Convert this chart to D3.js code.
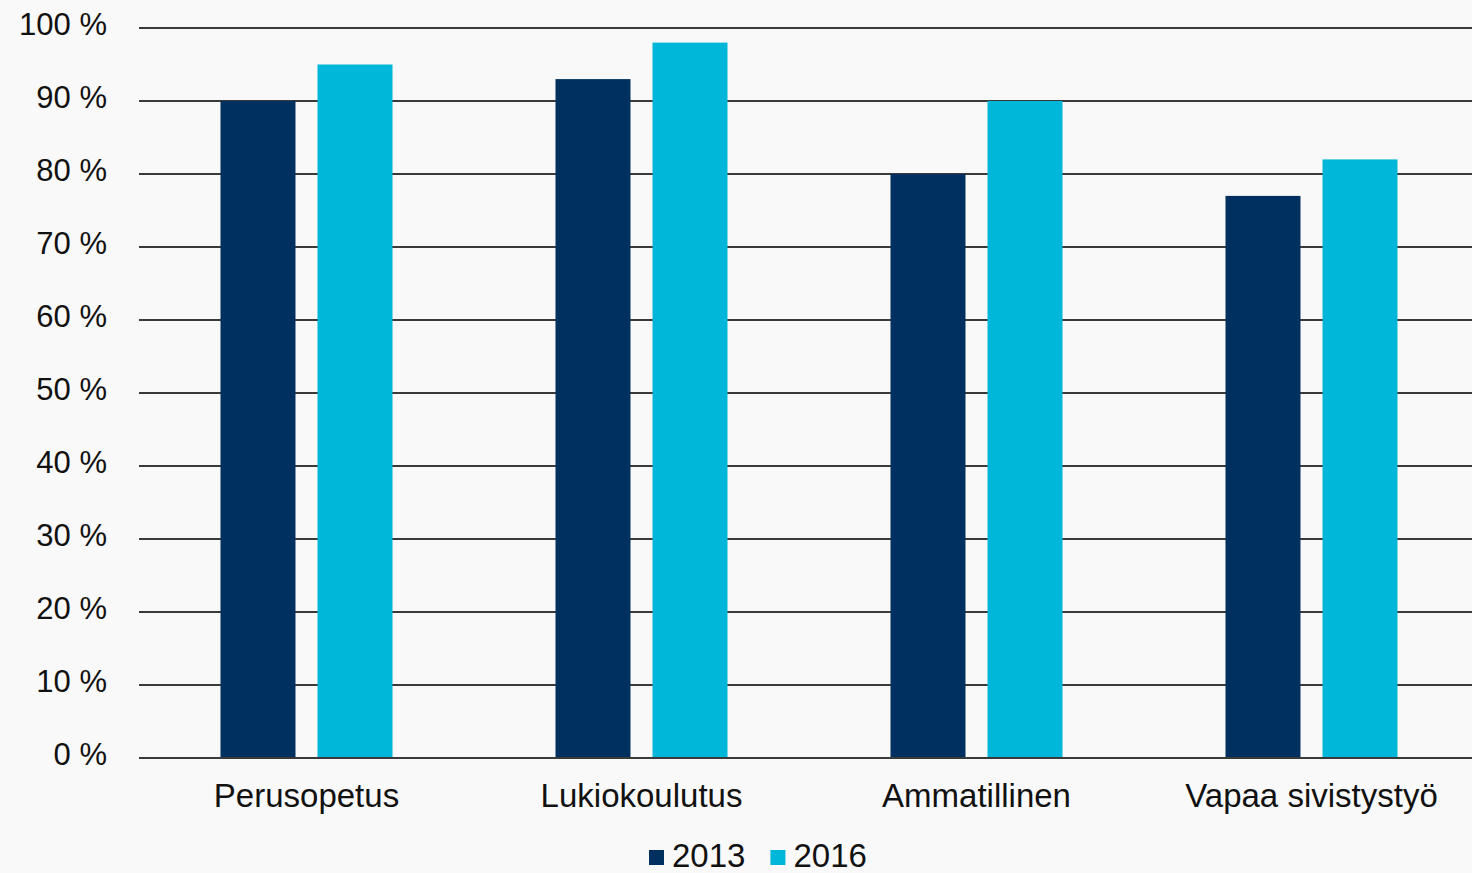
<!DOCTYPE html>
<html>
<head>
<meta charset="utf-8">
<script src="https://d3js.org/d3.v7.min.js"></script>
<style>
  html, body { margin: 0; padding: 0; background: #f9f9f9; }
  svg { display: block; font-family: "Liberation Sans", Arial, sans-serif; }
</style>
</head>
<body>
<div id="chart"></div>
<script>
const categories = ["Perusopetus", "Lukiokoulutus", "Ammatillinen", "Vapaa sivistystyö"];
const series = ["2013", "2016"];
const values2013 = [90, 93, 80, 77];
const values2016 = [95, 98, 90, 82];
const yTicks = [0, 10, 20, 30, 40, 50, 60, 70, 80, 90, 100];
const colors = ["#00305f", "#00b6d9"];

const width = 1472, height = 873;
const margin = { top: 28, right: -7, bottom: 115, left: 139 };

const svg = d3.select("#chart").append("svg")
    .attr("width", width)
    .attr("height", height);

svg.append("rect").attr("width", width).attr("height", height).attr("fill", "#f9f9f9");

const y = d3.scaleLinear().domain([0, 100]).range([height - margin.bottom, margin.top]);
const x0 = d3.scaleBand().domain(categories).range([margin.left, width - margin.right]);
const groupWidth = 172;
const x1 = d3.scaleBand().domain(series).range([0, groupWidth]).paddingInner(0.227);

// grid lines
svg.append("g").selectAll("line").data(yTicks).join("line")
    .attr("x1", margin.left).attr("x2", width)
    .attr("y1", d => y(d)).attr("y2", d => y(d))
    .attr("stroke", "#3a3a3a").attr("stroke-width", 2);

// y labels
svg.append("g").selectAll("text").data(yTicks).join("text")
    .attr("x", 107).attr("y", d => y(d) - 1)
    .attr("text-anchor", "end")
    .attr("dominant-baseline", "middle")
    .attr("font-size", 31)
    .attr("fill", "#111")
    .text(d => d + " %");

// bars
const rows = categories.map((c, i) => ({ cat: c, vals: [values2013[i], values2016[i]] }));
const groups = svg.append("g").selectAll("g").data(rows).join("g")
    .attr("transform", d => `translate(${x0(d.cat) + x0.bandwidth() / 2 - groupWidth / 2},0)`);
groups.selectAll("rect").data(d => d.vals.map((v, j) => ({ s: series[j], v, j }))).join("rect")
    .attr("x", d => x1(d.s))
    .attr("width", x1.bandwidth())
    .attr("y", d => y(d.v))
    .attr("height", d => y(0) - y(d.v))
    .attr("fill", d => colors[d.j]);

// baseline on top
svg.append("line")
    .attr("x1", margin.left).attr("x2", width)
    .attr("y1", y(0)).attr("y2", y(0))
    .attr("stroke", "#3a3a3a").attr("stroke-width", 2);

// category labels
svg.append("g").selectAll("text").data(categories).join("text")
    .attr("x", d => x0(d) + x0.bandwidth() / 2)
    .attr("y", 807)
    .attr("text-anchor", "middle")
    .attr("font-size", 33)
    .attr("fill", "#111")
    .text(d => d);

// legend
const legend = svg.append("g").attr("transform", "translate(649,0)");
let lx = 0;
series.forEach((s, i) => {
    legend.append("rect").attr("x", lx).attr("y", 850).attr("width", 15).attr("height", 15).attr("fill", colors[i]);
    const t = legend.append("text").attr("x", lx + 23).attr("y", 867)
        .attr("font-size", 33).attr("fill", "#111").text(s);
    lx += 23 + t.node().getComputedTextLength() + 25;
});
</script>
</body>
</html>
